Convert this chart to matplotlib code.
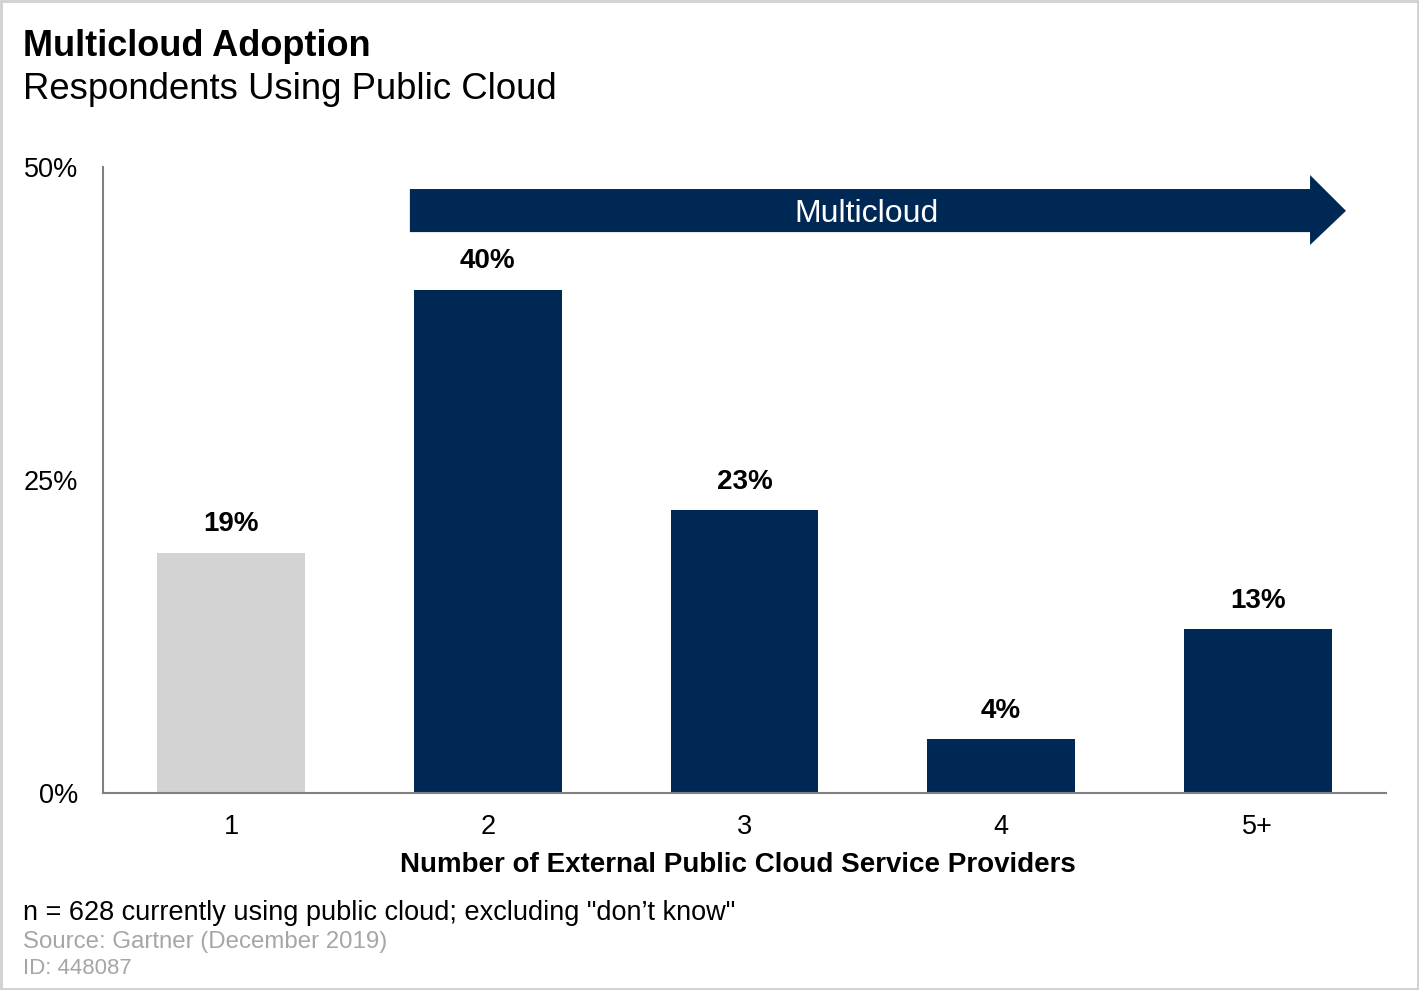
import matplotlib
matplotlib.use("Agg")
import matplotlib.pyplot as plt
from matplotlib.patches import Polygon, Rectangle

plt.rcParams['font.family'] = ['Liberation Sans', 'DejaVu Sans']

# Data
providers = ['1', '2', '3', '4', '5+']
share = [19.2, 40.2, 22.6, 4.3, 13.1]
share_labels = ['19%', '40%', '23%', '4%', '13%']
y_ticks = [0, 25, 50]
y_tick_labels = ['0%', '25%', '50%']

NAVY = '#002855'
GREY_BAR = '#d3d3d3'
AXIS_GREY = '#808080'

fig = plt.figure(figsize=(14.19, 9.9), dpi=100)
ax = fig.add_axes([103 / 1419, 197 / 990, 1283 / 1419, 626 / 990])

colors = [GREY_BAR] + [NAVY] * (len(providers) - 1)
x = list(range(len(providers)))
ax.bar(x, share, width=0.576, color=colors)

for xi, v, lab in zip(x, share, share_labels):
    ax.annotate(lab, (xi, v), xytext=(0, 11), textcoords='offset points',
                ha='center', va='bottom', fontsize=20, fontweight='bold')

ax.set_xlim(-0.5, 4.5)
ax.set_ylim(0, 50)
ax.set_xticks(x)
ax.set_xticklabels(providers)
ax.set_yticks(y_ticks)
ax.set_yticklabels(y_tick_labels)
ax.tick_params(axis='both', length=0, labelsize=19.5)
ax.tick_params(axis='y', pad=18)
ax.tick_params(axis='x', pad=15)

for side in ['top', 'right']:
    ax.spines[side].set_visible(False)
for side in ['left', 'bottom']:
    ax.spines[side].set_color(AXIS_GREY)
    ax.spines[side].set_linewidth(1.5)

ax.set_xlabel('Number of External Public Cloud Service Providers',
              fontsize=20, fontweight='bold', labelpad=9)
ax.xaxis.label.set_x(0.495)

# "Multicloud" arrow spanning bars 2 to 5+
arrow = Polygon([(0.696, 48.24), (4.204, 48.24), (4.204, 49.36), (4.344, 46.5),
                 (4.204, 43.77), (4.204, 44.8), (0.696, 44.8)],
                closed=True, facecolor=NAVY, edgecolor='none', clip_on=False)
ax.add_patch(arrow)
ax.text(2.475, 46.25, 'Multicloud', color='white', fontsize=23,
        ha='center', va='center')

# Titles and footnotes
fig.text(23 / 1419, 1 - 56 / 990, 'Multicloud Adoption', fontsize=26,
         fontweight='bold', ha='left', va='baseline')
fig.text(23 / 1419, 1 - 99 / 990, 'Respondents Using Public Cloud', fontsize=26.3,
         ha='left', va='baseline')
fig.text(23 / 1419, 1 - 920 / 990,
         'n = 628 currently using public cloud; excluding "don\u2019t know"',
         fontsize=19.5, ha='left', va='baseline')
fig.text(23 / 1419, 1 - 948 / 990, 'Source: Gartner (December 2019)',
         fontsize=17.3, color='#a6a6a6', ha='left', va='baseline')
fig.text(23 / 1419, 1 - 974 / 990, 'ID: 448087',
         fontsize=16, color='#a6a6a6', ha='left', va='baseline')

fig.patches.append(Rectangle((0.001, 0.001), 0.998, 0.998, transform=fig.transFigure,
                             fill=False, edgecolor='#d0d0d0', linewidth=2))

fig.savefig('out.png', dpi=100)
